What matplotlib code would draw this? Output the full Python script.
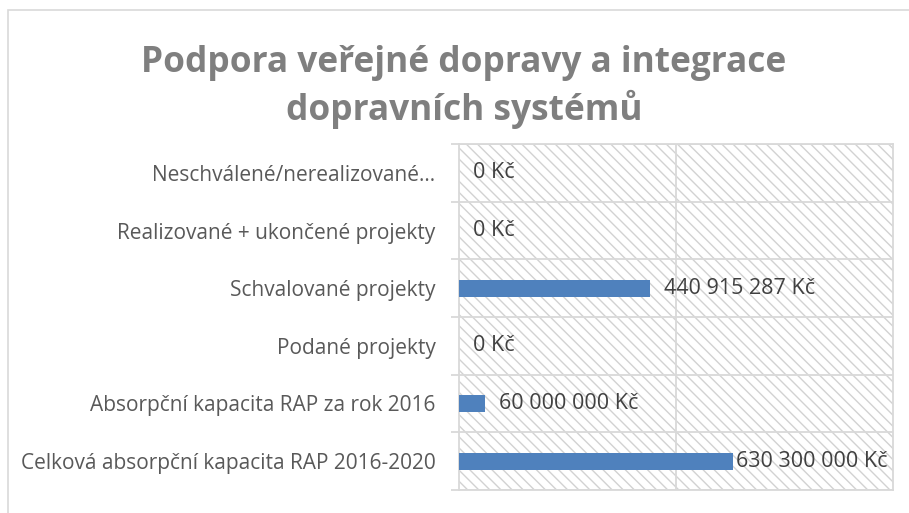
import matplotlib
matplotlib.use("Agg")
import matplotlib.pyplot as plt
from matplotlib.patches import Rectangle
from matplotlib.ticker import FixedLocator
import numpy as np

plt.rcParams['font.family'] = ['Open Sans', 'DejaVu Sans']
plt.rcParams['hatch.color'] = '#d2d2d2'
plt.rcParams['hatch.linewidth'] = 1.0

title_lines = ["Podpora veřejné dopravy a integrace", "dopravních systémů"]
categories = [
    "Neschválené/nerealizované…",
    "Realizované + ukončené projekty",
    "Schvalované projekty",
    "Podané projekty",
    "Absorpční kapacita RAP za rok 2016",
    "Celková absorpční kapacita RAP 2016-2020",
]
values = [0, 0, 440915287, 0, 60000000, 630300000]
x_max = 1_000_000_000
x_grid = [500_000_000]

def fmt(v):
    return f"{v:,}".replace(",", " ") + " Kč"

W, H = 909, 513
fig = plt.figure(figsize=(W / 100, H / 100), dpi=100)
fig.patch.set_facecolor('white')

# outer chart border
fig.add_artist(Rectangle((8 / W, -0.1), 1.2, (H - 10) / H + 0.1, transform=fig.transFigure,
                         fill=False, edgecolor='#d9d9d9', linewidth=1.2))

ax = fig.add_axes([459 / W, 1 - 490 / H, (893 - 459) / W, (490 - 144) / H])
ax.set_facecolor('none')

n = len(categories)
ypos = np.arange(n)
ax.set_ylim(n - 0.5, -0.5)
ax.set_xlim(0, x_max)

# hatched plot background
bg = Rectangle((0, 0), 1, 1, transform=ax.transAxes, facecolor='white',
               edgecolor='#d2d2d2', linewidth=0, hatch='\\\\\\', zorder=0)
ax.add_patch(bg)

ax.barh(ypos, values, height=0.3, color='#4F81BD', zorder=3)

# grid
for gx in x_grid:
    ax.axvline(gx, color='#d9d9d9', linewidth=1.3, zorder=1)
bounds = np.arange(n + 1) - 0.5
for b in bounds:
    ax.axhline(b, color='#d9d9d9', linewidth=1.3, zorder=1)

for s in ax.spines.values():
    s.set_color('#d9d9d9')
    s.set_linewidth(1.3)

ax.set_xticks([])
ax.set_yticks(ypos)
ax.set_yticklabels(categories, fontsize=15, color='#595959')
ax.tick_params(axis='y', which='major', length=0, pad=17)
ax.yaxis.set_minor_locator(FixedLocator(bounds))
ax.tick_params(axis='y', which='minor', length=5.5, width=1.3, color='#d9d9d9')

# value labels
fig.canvas.draw()
renderer = fig.canvas.get_renderer()
ax_bbox = ax.get_window_extent(renderer)
for y, v in zip(ypos, values):
    x_disp = ax.transData.transform((v, y))[0] + 14
    t = ax.text(0, y, fmt(v), fontsize=15.5, color='#404040', va='center', ha='left', zorder=4)
    w = t.get_window_extent(renderer).width
    x_disp = min(x_disp, ax_bbox.x1 - w - 5)
    x_data = ax.transData.inverted().transform((x_disp, 0))[0]
    t.set_x(x_data)

# title
fig.text(464 / W, 1 - 72 / H, title_lines[0], ha='center', va='baseline',
         fontsize=25.4, fontweight='bold', color='#7f7f7f')
fig.text(464 / W, 1 - 120 / H, title_lines[1], ha='center', va='baseline',
         fontsize=25.4, fontweight='bold', color='#7f7f7f')

fig.savefig("out.png", dpi=100)
